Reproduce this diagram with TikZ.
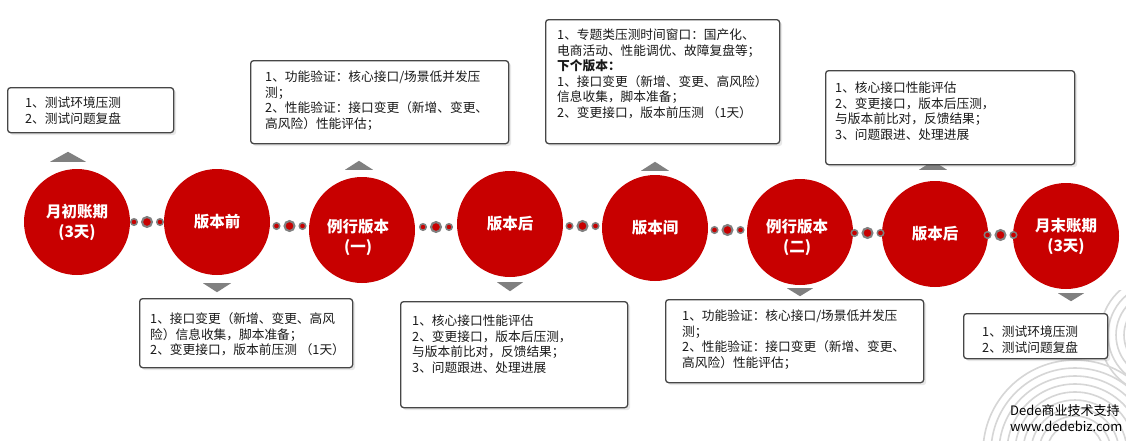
\documentclass[tikz,border=0pt]{standalone}
\usepackage{fontspec}
\setmainfont{Noto Sans CJK SC}
\usetikzlibrary{calc,shadows}
\definecolor{cred}{RGB}{200,0,0}
\definecolor{tgray}{RGB}{128,128,128}
\definecolor{bgray}{RGB}{70,70,70}
\definecolor{wmgray}{RGB}{214,214,214}
\begin{document}
\begin{tikzpicture}[x=1pt,y=-1pt,
  stage/.style={circle,fill=cred,minimum size=106pt,inner sep=0pt,text=white,
    font=\fontsize{15.5}{20}\selectfont\bfseries,align=center},
  stagetext/.style={inner sep=0pt,text=white,font=\fontsize{15.5}{20}\selectfont\bfseries,align=center},
  infobox/.style={draw=bgray,line width=1.3pt,rounded corners=3pt,fill=white,inner sep=0pt,
    anchor=north west,drop shadow={opacity=0.18,shadow xshift=2.5pt,shadow yshift=-2.5pt}},
  info/.style={anchor=north west,align=left,inner sep=0pt,text=black!90,
    font=\fontsize{12.7}{15.5}\selectfont},
  bigdot/.style={circle,fill=cred,draw=tgray,line width=2pt,minimum size=10pt,inner sep=0pt},
  smalldot/.style={circle,fill=cred,draw=tgray,line width=1.5pt,minimum size=6.5pt,inner sep=0pt},
  tri/.style={fill=tgray}]
\useasboundingbox (0,0) rectangle (1126,440);
\fill[white] (0,0) rectangle (1126,440);

% watermark ornament
\begin{scope}
  \clip (930,290) rectangle (1126,440);
  \foreach \r in {28,36,...,92} \draw[wmgray,line width=1.6pt] (1075,452) circle (\r);
  \foreach \r in {20,28,...,60} \draw[wmgray,line width=1.6pt] (1160,335) circle (\r);
\end{scope}

% stages
\node[stage] (c1) at (77,222) {月初账期\\(3天)};
\node[stage] (c2) at (217,222) {版本前};
\node[stage] (c3) at (362,230) {};
\node[stagetext] (c3t) at ($(c3.center)+(-4,7)$) {例行版本\\(一)};
\node[stage] (c4) at (510,224) {版本后};
\node[stage] (c5) at (655,228) {版本间};
\node[stage] (c6) at (800,232) {};
\node[stagetext] (c6t) at ($(c6.center)+(-3,5)$) {例行版本\\(二)};
\node[stage] (c7) at (935,234) {版本后};
\node[stage] (c8) at (1066,236) {月末账期\\(3天)};

% dotted links
\foreach \a/\b in {c1/c2,c2/c3,c3/c4,c4/c5,c5/c6,c6/c7,c7/c8}{
  \node[bigdot] (\a-\b-m) at ($(\a.east)!0.5!(\b.west)$) {};
  \node[smalldot] (\a-\b-l) at ($(\a-\b-m)+(-13,0)$) {};
  \node[smalldot] (\a-\b-r) at ($(\a-\b-m)+(13,0)$) {};
}

% pointer triangles
\fill[tri] ($(c1.north)+(-27,-7)$) -- ($(c1.north)+(9,-7)$) -- ($(c1.north)+(-9,-17)$) -- cycle;
\fill[tri] ($(c3.north)+(-17,-7)$) -- ($(c3.north)+(11,-7)$) -- ($(c3.north)+(-3,-16)$) -- cycle;
\fill[tri] ($(c5.north)+(-14,-4)$) -- ($(c5.north)+(14,-4)$) -- ($(c5.north)+(0,-13)$) -- cycle;
\fill[tri] ($(c7.north)+(-16,-11)$) -- ($(c7.north)+(12,-11)$) -- ($(c7.north)+(-2,-20)$) -- cycle;
\fill[tri] ($(c2.south)+(-14,8)$) -- ($(c2.south)+(14,8)$) -- ($(c2.south)+(0,17)$) -- cycle;
\fill[tri] ($(c4.south)+(-13,5)$) -- ($(c4.south)+(13,5)$) -- ($(c4.south)+(0,14)$) -- cycle;
\fill[tri] ($(c6.south)+(-13,3)$) -- ($(c6.south)+(13,3)$) -- ($(c6.south)+(0,11)$) -- cycle;
\fill[tri] ($(c8.south)+(-8,4)$) -- ($(c8.south)+(18,4)$) -- ($(c8.south)+(5,12)$) -- cycle;

% boxes
\node[infobox,minimum width=166pt,minimum height=45pt] (b1) at (7,87) {};
\node[info] (t1) at ($(b1.north west)+(18,9.6)$) {1、测试环境压测\\2、测试问题复盘};

\node[infobox,minimum width=258pt,minimum height=83pt] (b2) at (250,60) {};
\node[info] (t2) at ($(b2.north west)+(15,10.6)$) {1、功能验证：核心接口/场景低并发压\\测；\\2、性能验证：接口变更（新增、变更、\\高风险）性能评估；};

\node[infobox,minimum width=234pt,minimum height=124pt] (b3) at (545,19) {};
\node[info] (t3) at ($(b3.north west)+(12,9.6)$) {1、专题类压测时间窗口：国产化、\\电商活动、性能调优、故障复盘等；\\\textbf{下个版本：}\\1、接口变更（新增、变更、高风险）\\信息收集，脚本准备；\\2、变更接口，版本前压测 （1天）};

\node[infobox,minimum width=249pt,minimum height=94pt] (b4) at (825,70) {};
\node[info] (t4) at ($(b4.north west)+(10,11.6)$) {1、核心接口性能评估\\2、变更接口，版本后压测，\\与版本前比对，反馈结果；\\3、问题跟进、处理进展};

\node[infobox,minimum width=213pt,minimum height=69pt] (b5) at (139,298) {};
\node[info] (t5) at ($(b5.north west)+(11,14.6)$) {1、接口变更（新增、变更、高风\\险）信息收集，脚本准备；\\2、变更接口，版本前压测 （1天）};

\node[infobox,minimum width=227pt,minimum height=106pt] (b6) at (400,301) {};
\node[info] (t6) at ($(b6.north west)+(12,13.6)$) {1、核心接口性能评估\\2、变更接口，版本后压测，\\与版本前比对，反馈结果；\\3、问题跟进、处理进展};

\node[infobox,minimum width=258pt,minimum height=83pt] (b7) at (665,299) {};
\node[info] (t7) at ($(b7.north west)+(17,10.6)$) {1、功能验证：核心接口/场景低并发压\\测；\\2、性能验证：接口变更（新增、变更、\\高风险）性能评估；};

\node[infobox,minimum width=144pt,minimum height=45pt] (b8) at (963,313) {};
\node[info] (t8) at ($(b8.north west)+(19,12.6)$) {1、测试环境压测\\2、测试问题复盘};

% watermark text
\node[anchor=west,inner sep=0pt,font=\fontsize{13}{14}\selectfont] (wm1) at (1010,411) {Dede商业技术支持};
\node[anchor=west,inner sep=0pt,font=\fontsize{13}{14}\selectfont] (wm2) at (1010,426) {www.dedebiz.com};
\end{tikzpicture}
\end{document}
